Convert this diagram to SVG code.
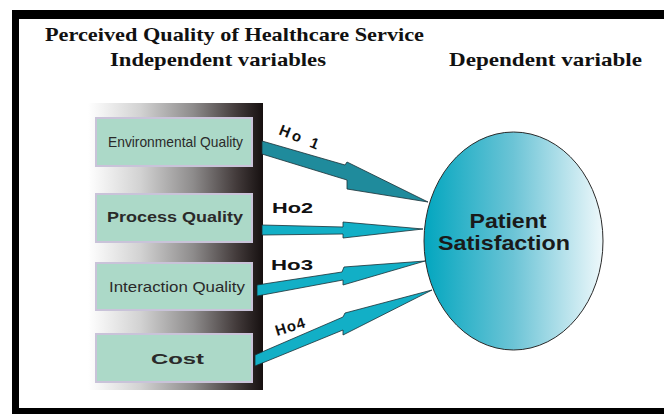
<svg xmlns="http://www.w3.org/2000/svg" width="664" height="414" viewBox="0 0 664 414">
<style>
.hdr{font-family:"Liberation Serif","Times New Roman",serif;font-weight:bold;font-size:19px;fill:#111}
.box{fill:#acd9c8;stroke:#c9c3d9;stroke-width:2}
.lbl{font-family:"Liberation Sans",Arial,sans-serif;font-size:15px;fill:#2a2a2a}
.b{font-weight:bold}
.ho{font-family:"Liberation Sans",Arial,sans-serif;font-weight:bold;font-size:15px;fill:#111}
.arr{fill:#12afc6;stroke:#1b3036;stroke-width:0.8;stroke-linejoin:miter}
.arrd{fill:#1f8b9c;stroke:#1b3036;stroke-width:0.8}
.ell{font-family:"Liberation Sans",Arial,sans-serif;font-weight:bold;font-size:21px;fill:#1a1a1a;text-anchor:middle}
</style>
<defs>
<linearGradient id="panel" x1="0" y1="0" x2="1" y2="0">
<stop offset="0" stop-color="#ffffff"/>
<stop offset="0.3" stop-color="#d2d2d2"/>
<stop offset="0.6" stop-color="#8e8c8c"/>
<stop offset="0.85" stop-color="#423a3a"/>
<stop offset="1" stop-color="#161010"/>
</linearGradient>
<linearGradient id="ellg" x1="0" y1="0" x2="1" y2="0">
<stop offset="0" stop-color="#02a6bf"/>
<stop offset="0.5" stop-color="#6cc4d6"/>
<stop offset="1" stop-color="#eef8fb"/>
</linearGradient>
</defs>
<rect x="0" y="0" width="664" height="414" fill="#ffffff"/>
<g id="frame" fill="#000">
<rect x="12" y="10" width="652" height="9"/>
<rect x="12" y="10" width="7" height="404"/>
<rect x="12" y="408" width="652" height="6"/>
</g>
<g id="headers">
<text class="hdr" x="45" y="41" textLength="379" lengthAdjust="spacingAndGlyphs">Perceived Quality of Healthcare Service</text>
<text class="hdr" x="110" y="66" textLength="216" lengthAdjust="spacingAndGlyphs">Independent variables</text>
<text class="hdr" x="449" y="66" textLength="193" lengthAdjust="spacingAndGlyphs">Dependent variable</text>
</g>
<g id="panel-bg">
<rect x="88" y="103" width="175" height="287" fill="url(#panel)"/>
</g>
<g id="node-environmental">
<rect class="box" x="96" y="118" width="156" height="48"/>
<text class="lbl" x="108" y="147" textLength="135" lengthAdjust="spacingAndGlyphs">Environmental Quality</text>
</g>
<g id="node-process">
<rect class="box" x="96" y="194" width="156" height="48"/>
<text class="lbl b" x="107" y="222" textLength="136" lengthAdjust="spacingAndGlyphs">Process Quality</text>
</g>
<g id="node-interaction">
<rect class="box" x="96" y="263" width="156" height="47"/>
<text class="lbl" x="109" y="292" textLength="136" lengthAdjust="spacingAndGlyphs">Interaction Quality</text>
</g>
<g id="node-cost">
<rect class="box" x="96" y="334" width="156" height="48"/>
<text class="lbl b" x="151" y="364" font-size="16" textLength="53" lengthAdjust="spacingAndGlyphs">Cost</text>
</g>
<g id="connectors">
<polygon class="arrd" points="262,141 345,165 347,162 428,202 347,189 347,180 262,154"/>
<polygon class="arr" points="262,225 343,227 343,222 423,229 343,238 343,234 262,235"/>
<polygon class="arr" points="257,285 342,272 344,267 425,261 343,285 343,280 257,296"/>
<polygon class="arr" points="255,355 343,317 345,313 432,290 343,335 343,330 255,366"/>
<text class="ho" transform="translate(278,134) rotate(22)" letter-spacing="3">Ho 1</text>
<text class="ho" x="272" y="213" textLength="41" lengthAdjust="spacingAndGlyphs">Ho2</text>
<text class="ho" x="271" y="270" textLength="42" lengthAdjust="spacingAndGlyphs">Ho3</text>
<text class="ho" transform="translate(277,336) rotate(-17)" letter-spacing="1">Ho4</text>
</g>
<g id="node-patient-satisfaction">
<ellipse cx="513.5" cy="241" rx="89.5" ry="109" fill="url(#ellg)" stroke="#2a2a2a" stroke-width="1"/>
<text class="ell" x="508" y="228" textLength="77" lengthAdjust="spacingAndGlyphs">Patient</text>
<text class="ell" x="504" y="250" textLength="132" lengthAdjust="spacingAndGlyphs">Satisfaction</text>
</g>
</svg>
